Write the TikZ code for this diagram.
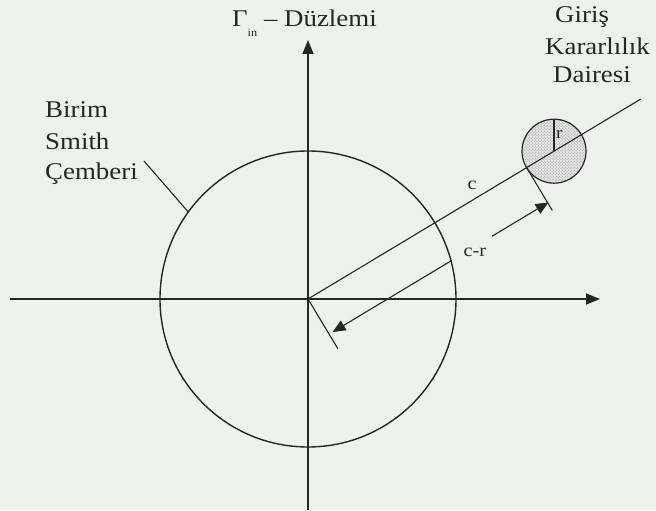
\documentclass[tikz,border=0pt]{standalone}
\usepackage{fontspec}
\setmainfont{Liberation Serif}[FakeStretch=1.12]
\usetikzlibrary{arrows.meta,patterns,calc}
\definecolor{paper}{HTML}{EFF1EF}
\definecolor{ink}{HTML}{262626}

\tikzset{
  axis/.style={line width=1.5pt,-{Triangle[length=14pt,width=11pt]}},
  thinline/.style={line width=1.1pt},
  crtip/.style={line width=1.1pt,-{Triangle[length=13pt,width=11pt]}},
  lbl/.style={anchor=base west,inner sep=0pt}
}

\begin{document}
\begin{tikzpicture}[x=1pt,y=1pt,font=\fontsize{24}{30}\selectfont,color=ink]
        \fill[paper] (-308,-211) rectangle (348,299);
        % axes
        \coordinate (o) at (0,0);
        \coordinate (xl) at (-298,0);
        \coordinate (xr) at (292,0);
        \coordinate (yb) at (0,-211);
        \coordinate (yt) at (0,259);
        \draw[axis] (xl) -- (xr);
        \draw[axis] (yb) -- (yt);
        % birim smith cemberi
        \draw[line width=1.4pt] (o) circle (148);
        % kararlilik dairesi
        \coordinate (cc) at (31:287);
        \coordinate (ctop) at ($(cc)+(0,32)$);
        \draw[line width=1.2pt,preaction={fill=gray!22},pattern=crosshatch dots,pattern color=gray!80] (cc) circle (32);
        \draw[thinline] (cc) -- (ctop);
        \node[anchor=west,inner sep=1pt,font=\fontsize{17}{17}\selectfont] (rlab) at ($(cc)+(1,17)$) {r};
        % c ve c-r
        \coordinate (cend) at (31:388);
        \draw[thinline] (o) -- (cend);
        \node[font=\fontsize{18}{18}\selectfont] (clab) at (164,114) {c};
        \coordinate (p0) at (-59:58);
        \draw[thinline] (o) -- (p0);
        \coordinate (q0) at (31:255);
        \coordinate (q1) at ($(q0)+(-59:50)$);
        \draw[thinline] (q0) -- (q1);
        \coordinate (a0) at ($(31:4)+(-59:41)$);
        \coordinate (a1) at ($(31:256)+(-59:41)$);
        \coordinate (m0) at ($(31:143)+(-59:41)$);
        \coordinate (m1) at ($(31:190)+(-59:41)$);
        \draw[crtip] (m0) -- (a0);
        \draw[crtip] (m1) -- (a1);
        \node[font=\fontsize{18}{18}\selectfont] (crlab) at ($(31:167)+(-59:46)$) {c-r};
        % etiketler
        \node[lbl] (gamma) at (-76,272) {Γ\raisebox{-0.4em}{\fontsize{11}{11}\selectfont in} – Düzlemi};
        \node[lbl] (giris) at (247,276) {Giriş};
        \node[lbl] (karar) at (237,244) {Kararlılık};
        \node[lbl] (daire) at (245,216) {Dairesi};
        \node[lbl] (birim) at (-263,181) {Birim};
        \node[lbl] (smith) at (-263,149) {Smith};
        \node[lbl] (cemberi) at (-263,119) {Çemberi};
        \coordinate (ls) at (-164,138);
        \coordinate (lend) at (144:148);
        \draw[thinline] (ls) -- (lend);
      \end{tikzpicture}
\end{document}
